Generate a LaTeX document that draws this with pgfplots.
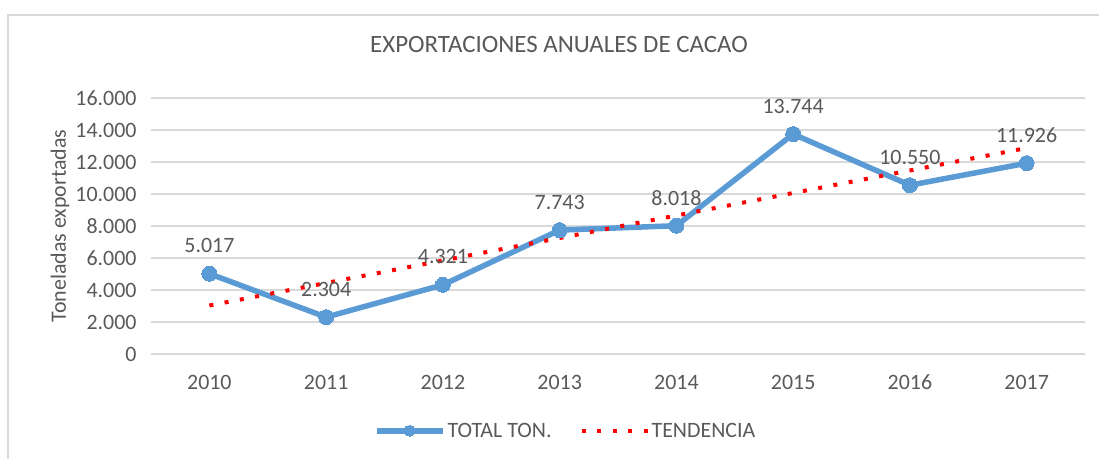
\documentclass[border=0pt]{standalone}
\usepackage{pgfplots}
\pgfplotsset{compat=1.18}
\usepackage{fontspec}
\setmainfont{Carlito}
\definecolor{txt}{HTML}{595959}
\definecolor{gridc}{HTML}{D9D9D9}
\definecolor{cblue}{HTML}{5B9BD5}
\begin{document}
\begin{tikzpicture}[x=1bp,y=1bp]
\path[use as bounding box] (0,0) rectangle (1099,459);
\draw[gridc, line width=1.5bp] (8,-5) -- (8,444) -- (1105,444);
\begin{axis}[
  at={(151bp,105bp)}, anchor=south west,
  scale only axis, width=934bp, height=256bp,
  xmin=-0.5, xmax=7.5, ymin=0, ymax=16000,
  scaled y ticks=false,
  clip=false,
  axis line style={draw=none},
  tick style={draw=none},
  xtick={0,...,7}, xticklabels={2010,2011,2012,2013,2014,2015,2016,2017},
  ytick={0,2000,...,16000},
  yticklabels={0,2.000,4.000,6.000,8.000,10.000,12.000,14.000,16.000},
  ymajorgrids, grid style={gridc, line width=1.3bp},
  ticklabel style={text=txt, font=\fontsize{22}{26}\selectfont},
  xticklabel style={anchor=center, yshift=-28bp},
  yticklabel style={anchor=east, xshift=-11bp},
  ylabel={Toneladas exportadas},
  ylabel style={at={(axis description cs:-0.0974,0.5)}, anchor=center, text=txt, font=\fontsize{22}{26}\selectfont},
  title={EXPORTACIONES ANUALES DE CACAO},
  title style={at={(axis description cs:0.4368,1.1875)}, anchor=center, text=txt, font=\fontsize{25}{30}\selectfont},
  legend style={at={(axis description cs:0.444,-0.30)}, anchor=center, draw=none, fill=none,
    legend columns=2, font=\fontsize{22}{26}\selectfont, text=txt,
    /tikz/every even column/.append style={column sep=26bp}},
  legend cell align=left,
  legend image code/.code={\draw[mark repeat=2,mark phase=2,#1, mark size=5.5bp] plot coordinates {(0bp,0bp) (33bp,0bp) (66bp,0bp)};},
]
\addplot[cblue, line width=5.5bp, mark=*, mark size=7.5bp, mark options={fill=cblue, line width=0bp},
  point meta=explicit symbolic, nodes near coords,
  nodes near coords style={anchor=center, yshift=28bp, text=txt, font=\fontsize{22}{26}\selectfont}]
  table[meta=lab] {
x y lab
0 5017 5.017
1 2304 2.304
2 4321 4.321
3 7743 7.743
4 8018 8.018
5 13744 13.744
6 10550 10.550
7 11926 11.926
};
\addlegendentry{TOTAL TON.}
\addplot[red, line width=4bp, dash pattern=on 4bp off 11.5bp, line cap=butt]
  coordinates {(0,3031) (7,12875)};
\addlegendentry{TENDENCIA}
\end{axis}
\end{tikzpicture}
\end{document}
